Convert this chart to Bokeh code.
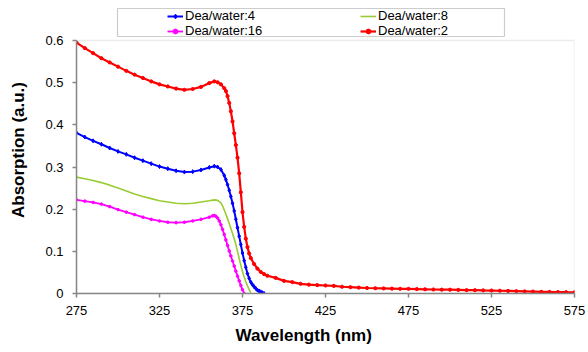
from bokeh.plotting import figure
from bokeh.models import Legend, LegendItem, FixedTicker, Range1d, BoxAnnotation, Title
from bokeh.embed import file_html
from bokeh.resources import INLINE

# ---- data ----
wl_red = [275, 280, 285, 290, 295, 300, 305, 310, 315, 320, 325, 330, 335, 340, 345, 350, 355, 358,
          360, 362, 364, 365, 366, 367, 368, 369, 370, 371, 372, 373, 374, 375, 376, 377, 378, 379,
          380, 382, 384, 386, 388, 390, 395, 400, 405, 410, 415, 420, 425, 430, 435, 440, 445, 450,
          455, 460, 465, 470, 475, 480, 485, 490, 495, 500, 505, 510, 515, 520, 525, 530, 535, 540,
          545, 550, 555, 560, 565, 570, 575]
abs_red = [0.595, 0.582, 0.570, 0.558, 0.548, 0.538, 0.528, 0.519, 0.511, 0.503, 0.496, 0.491, 0.486, 0.483,
           0.485, 0.490, 0.499, 0.503, 0.501, 0.496, 0.487, 0.480, 0.468, 0.452, 0.432, 0.408, 0.380, 0.352,
           0.322, 0.285, 0.240, 0.193, 0.158, 0.130, 0.110, 0.095, 0.084, 0.070, 0.059, 0.051, 0.046, 0.042,
           0.037, 0.030, 0.027, 0.023, 0.021, 0.020, 0.019, 0.018, 0.016, 0.015, 0.014, 0.013,
           0.0125, 0.012, 0.0115, 0.011, 0.011, 0.0105, 0.010, 0.0095, 0.009, 0.009, 0.0085, 0.008,
           0.0078, 0.0073, 0.007, 0.0065, 0.006, 0.0055, 0.005, 0.0045, 0.004, 0.0037, 0.0035, 0.0032, 0.003]

wl_blue = [275, 280, 285, 290, 295, 300, 305, 310, 315, 320, 325, 330, 335, 340, 345, 350, 355, 358,
           360, 362, 364, 365, 366, 367, 368, 369, 370, 371, 372, 373, 374, 375, 376, 377, 378, 379,
           380, 381, 382, 383, 384, 385, 386, 387, 388]
abs_blue = [0.381, 0.371, 0.362, 0.354, 0.345, 0.337, 0.330, 0.322, 0.315, 0.308, 0.301, 0.296, 0.291, 0.288,
            0.289, 0.293, 0.299, 0.302, 0.300, 0.294, 0.280, 0.270, 0.258, 0.245, 0.230, 0.214, 0.196, 0.176,
            0.156, 0.136, 0.116, 0.096, 0.078, 0.062, 0.047, 0.036, 0.027, 0.021, 0.016, 0.012, 0.008, 0.006,
            0.004, 0.002, 0.0]

wl_green = [275, 280, 285, 290, 295, 300, 305, 310, 315, 320, 325, 330, 335, 340, 345, 350, 355, 358,
            360, 362, 363, 364, 365, 366, 367, 368, 369, 370, 371, 372, 373, 374, 375, 376, 377, 378, 379, 380]
abs_green = [0.276, 0.272, 0.268, 0.263, 0.257, 0.250, 0.243, 0.236, 0.230, 0.225, 0.220, 0.217, 0.214, 0.213,
             0.214, 0.217, 0.220, 0.222, 0.221, 0.215, 0.208, 0.198, 0.188, 0.177, 0.166, 0.154, 0.142, 0.130,
             0.116, 0.100, 0.083, 0.067, 0.052, 0.039, 0.028, 0.018, 0.009, 0.002]

wl_mag = [275, 280, 285, 290, 295, 300, 305, 310, 315, 320, 325, 330, 335, 340, 345, 350, 355, 357, 358,
          359, 360, 361, 362, 363, 364, 365, 366, 367, 368, 369, 370, 371, 372, 373, 374, 375, 376]
abs_mag = [0.222, 0.219, 0.216, 0.212, 0.206, 0.199, 0.193, 0.187, 0.181, 0.176, 0.172, 0.169, 0.168, 0.169,
           0.172, 0.176, 0.181, 0.184, 0.185, 0.183, 0.179, 0.172, 0.163, 0.152, 0.140, 0.127, 0.114, 0.101,
           0.089, 0.077, 0.065, 0.053, 0.041, 0.030, 0.019, 0.009, 0.0]

x_ticks = [275, 325, 375, 425, 475, 525, 575]
y_ticks = [0, 0.1, 0.2, 0.3, 0.4, 0.5, 0.6]
y_tick_labels = ["0", "0.1", "0.2", "0.3", "0.4", "0.5", "0.6"]

series_labels = ["Dea/water:4", "Dea/water:8", "Dea/water:16", "Dea/water:2"]
x_title = "Wavelength (nm)"
y_title = "Absorption (a.u.)"

# ---- layout ----
FONT = "Liberation Sans"
AX = "#868686"
W, H = 588, 352
TOP, BOTTOM, LEFT, RIGHT = 6, 59, 76, 14
PLOT_TOP_PX = 40            # where the 0.6 line (top of plot box) sits
frame_h = H - TOP - BOTTOM
data_h = H - BOTTOM - PLOT_TOP_PX
y_max = y_ticks[-1] * frame_h / data_h

p = figure(width=W, height=H, output_backend="svg", toolbar_location=None,
           x_range=Range1d(x_ticks[0], x_ticks[-1]), y_range=Range1d(0, y_max),
           min_border_left=LEFT, min_border_right=RIGHT, min_border_top=TOP, min_border_bottom=BOTTOM)
p.background_fill_color = "white"
p.border_fill_color = "white"
p.outline_line_color = None
p.xgrid.visible = False
p.ygrid.visible = False

# plot box (light grey top/right border)
p.add_layout(BoxAnnotation(left=x_ticks[0], right=x_ticks[-1], bottom=0, top=y_ticks[-1],
                           fill_alpha=0, line_color="#c0c0c0", line_width=1.5, level="underlay"))

for ax in (p.xaxis[0], p.yaxis[0]):
    ax.axis_line_color = AX
    ax.axis_line_width = 1.5
    ax.major_tick_line_color = AX
    ax.major_tick_line_width = 1.5
    ax.major_tick_out = 4
    ax.major_tick_in = 0
    ax.minor_tick_out = 0
    ax.minor_tick_in = 0
    ax.major_label_text_font = FONT
    ax.major_label_text_font_size = "13px"
    ax.major_label_text_color = "black"
    ax.axis_label_text_font = FONT
    ax.axis_label_text_font_size = "17px"
    ax.axis_label_text_font_style = "bold"
    ax.axis_label_text_color = "black"

p.xaxis[0].ticker = FixedTicker(ticks=x_ticks)
p.yaxis[0].ticker = FixedTicker(ticks=y_ticks)
p.yaxis[0].bounds = (y_ticks[0], y_ticks[-1])
p.yaxis[0].major_label_overrides = {t: l for t, l in zip(y_ticks, y_tick_labels)}
p.yaxis[0].axis_label = y_title
p.xaxis[0].major_label_standoff = 8
p.yaxis[0].major_label_standoff = 9
p.yaxis[0].axis_label_standoff = 14

p.add_layout(Title(text=x_title, align="left", offset=159, standoff=13,
                   text_font=FONT, text_font_size="17px", text_font_style="bold",
                   text_color="black"), "below")

RED = "#ff0000"
BLUE = "#0000ff"
GREEN = "#99cc33"
MAG = "#ff00ff"

l_blue = p.line(wl_blue, abs_blue, line_color=BLUE, line_width=2)
s_blue = p.scatter(wl_blue, abs_blue, marker="diamond", size=4, color=BLUE)
l_green = p.line(wl_green, abs_green, line_color=GREEN, line_width=1.6)
l_mag = p.line(wl_mag, abs_mag, line_color=MAG, line_width=1.8)
s_mag = p.scatter(wl_mag, abs_mag, marker="circle", size=2.6, color=MAG)
l_red = p.line(wl_red, abs_red, line_color=RED, line_width=2.2)
s_red = p.scatter(wl_red, abs_red, marker="circle", size=3.2, color=RED)

items = [
    LegendItem(label=series_labels[0], renderers=[l_blue, s_blue]),
    LegendItem(label=series_labels[2], renderers=[l_mag, s_mag]),
    LegendItem(label=series_labels[1], renderers=[l_green]),
    LegendItem(label=series_labels[3], renderers=[l_red, s_red]),
]
legend = Legend(items=items, location=(91, 255), ncols=2, nrows=2,
                glyph_width=16, glyph_height=12, label_height=12, label_standoff=2,
                label_width=175, spacing=0, padding=0, margin=0,
                label_text_font=FONT, label_text_font_size="13px", label_text_color="black",
                border_line_alpha=0, background_fill_alpha=0)
p.add_layout(legend, "center")

# legend frame
p.add_layout(BoxAnnotation(left=41, right=428, bottom=257, top=285,
                           left_units="screen", right_units="screen",
                           bottom_units="screen", top_units="screen",
                           fill_alpha=0, line_color="#555555", line_width=1.2))

open("out.html", "w").write(file_html(p, INLINE))
